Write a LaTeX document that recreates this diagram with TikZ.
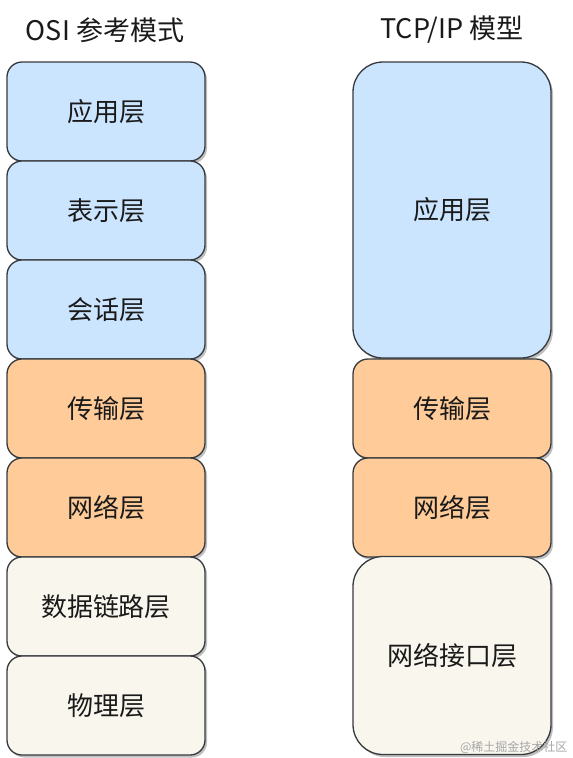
\documentclass[tikz,border=0pt]{standalone}
\usepackage{fontspec}
\setmainfont{Noto Sans CJK SC}
\usetikzlibrary{shadows}
\definecolor{bluefill}{HTML}{CCE5FF}
\definecolor{orangefill}{HTML}{FFCC99}
\definecolor{beigefill}{HTML}{F9F7ED}
\definecolor{strokec}{HTML}{36393D}
\definecolor{txtc}{HTML}{1A1A1A}
\tikzset{
  layer/.style={draw=strokec, line width=1.3pt, text=txtc, font=\fontsize{26}{30}\selectfont,
    minimum width=198pt, inner sep=0pt,
    drop shadow={shadow xshift=2pt, shadow yshift=-2.5pt, opacity=0.25, fill=black}},
  small/.style={layer, minimum height=99pt, rounded corners=15pt},
  big/.style={layer, rounded corners=30pt},
  blue/.style={fill=bluefill},
  orange/.style={fill=orangefill},
  beige/.style={fill=beigefill},
  title/.style={font=\fontsize{27}{30}\selectfont, text=txtc}
}
\begin{document}
\begin{tikzpicture}[x=1pt,y=-1pt]
\useasboundingbox[fill=white] (0,0) rectangle (573,758);
\node[title] (t1) at (105,30) {OSI 参考模式};
\node[title] (t2) at (452,30) {TCP/IP 模型};
% left column
\node[small,blue]   (o1) at (106,111.5) {应用层};
\node[small,blue]   (o2) at (106,210.5) {表示层};
\node[small,blue]   (o3) at (106,309.5) {会话层};
\node[small,orange] (o4) at (106,408.5) {传输层};
\node[small,orange] (o5) at (106,507.5) {网络层};
\node[small,beige]  (o6) at (106,606.5) {数据链路层};
\node[small,beige]  (o7) at (106,705.5) {物理层};
% right column
\node[big,blue,minimum height=296pt]   (p1) at (452,210) {应用层};
\node[small,orange] (p2) at (452,408.5) {传输层};
\node[small,orange] (p3) at (452,507.5) {网络层};
\node[big,beige,minimum height=198pt]  (p4) at (452,655.5) {网络接口层};
\node[text=black!35, font=\fontsize{12}{14}\selectfont, anchor=east] (wm) at (571,747) {@稀土掘金技术社区};
\end{tikzpicture}
\end{document}
